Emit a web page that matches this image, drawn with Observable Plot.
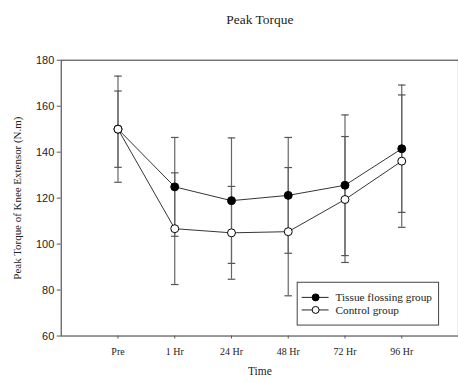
<!DOCTYPE html>
<html>
<head>
<meta charset="utf-8">
<script src="https://cdn.jsdelivr.net/npm/d3@7"></script>
<script src="https://cdn.jsdelivr.net/npm/@observablehq/plot@0.6"></script>
<style>
html, body { margin: 0; padding: 0; background: #fff; overflow: hidden; }
</style>
</head>
<body>
<div id="chart"></div>
<script>
const times = ["Pre", "1 Hr", "24 Hr", "48 Hr", "72 Hr", "96 Hr"];
const seriesNames = ["Tissue flossing group", "Control group"];
const flossingMean = [150, 124.9, 118.9, 121.2, 125.6, 141.5];
const flossingSD   = [16.6, 21.5, 27.3, 25.2, 30.6, 27.7];
const controlMean  = [150, 106.7, 104.9, 105.4, 119.4, 136.1];
const controlSD    = [23.1, 24.3, 20.2, 27.9, 27.4, 28.8];
const yTicks = [60, 80, 100, 120, 140, 160, 180];

const rows = [];
times.forEach((t, i) => {
  rows.push({time: t, group: seriesNames[0], mean: flossingMean[i], sd: flossingSD[i]});
});
times.forEach((t, i) => {
  rows.push({time: t, group: seriesNames[1], mean: controlMean[i], sd: controlSD[i]});
});
const caps = rows.flatMap(d => [{time: d.time, group: d.group, v: d.mean - d.sd}, {time: d.time, group: d.group, v: d.mean + d.sd}]);

const capSymbol = {draw(ctx, size) { const w = 3.8; ctx.moveTo(-w, 0); ctx.lineTo(w, 0); }};
const serif = "'Liberation Serif', 'Times New Roman', serif";
const sans = "'Liberation Sans', Arial, sans-serif";

const chart = Plot.plot({
  width: 460,
  height: 382,
  marginLeft: 61,
  marginRight: 0,
  marginTop: 60,
  marginBottom: 45,
  style: {fontFamily: serif, background: "#fff", color: "#222"},
  x: {type: "point", domain: times, padding: 1},
  y: {domain: [60, 180]},
  marks: [
    Plot.frame({stroke: "#555", strokeWidth: 1.2}),
    Plot.axisY({ticks: yTicks, tickSize: 4, tickPadding: 3, fontFamily: sans, fontSize: 11, label: null, stroke: "#555"}),
    Plot.axisX({tickSize: 3, tickPadding: 9, fontSize: 10, label: null, stroke: "#555"}),
    Plot.ruleX(rows, {x: "time", y1: d => d.mean - d.sd, y2: d => d.mean + d.sd, stroke: "#666", strokeWidth: 1.2}),
    Plot.dot(caps, {x: "time", y: "v", symbol: capSymbol, stroke: "#555", strokeWidth: 1.2, fill: "none", r: 4}),
    Plot.line(rows, {x: "time", y: "mean", z: "group", stroke: "#333", strokeWidth: 1}),
    Plot.dot(rows, {x: "time", y: "mean", r: 4, stroke: "#000", strokeWidth: 1,
      fill: d => d.group === seriesNames[0] ? "#000" : "#fff"}),
    Plot.text(["Peak Torque"], {frameAnchor: "top", dy: -46, fontSize: 13.5, fill: "#222"}),
    Plot.text(["Time"], {frameAnchor: "bottom", dy: 39, fontSize: 11.5, fill: "#222"}),
    Plot.text(["Peak Torque of Knee Extensor (N.m)"], {frameAnchor: "left", textAnchor: "middle", dx: -44, rotate: -90, fontSize: 11, fill: "#222"})
  ]
});
document.getElementById("chart").appendChild(chart);

// Legend
const svg = d3.select(chart);
const lg = svg.append("g").attr("font-family", serif).attr("font-size", 11.3).attr("text-anchor", "start");
lg.append("rect").attr("x", 298.5).attr("y", 283.5).attr("width", 142).attr("height", 43)
  .attr("fill", "#fff").attr("stroke", "#444").attr("stroke-width", 1);
seriesNames.forEach((name, i) => {
  const y = 298.7 + i * 12.6;
  lg.append("line").attr("x1", 303).attr("x2", 330).attr("y1", y).attr("y2", y)
    .attr("stroke", "#222").attr("stroke-width", 1);
  lg.append("circle").attr("cx", 317).attr("cy", y).attr("r", 3.5)
    .attr("fill", i === 0 ? "#000" : "#fff").attr("stroke", "#000");
  lg.append("text").attr("x", 337).attr("y", y).attr("dy", "0.35em")
    .attr("text-anchor", "start").attr("fill", "#222").text(name);
});
</script>
</body>
</html>
